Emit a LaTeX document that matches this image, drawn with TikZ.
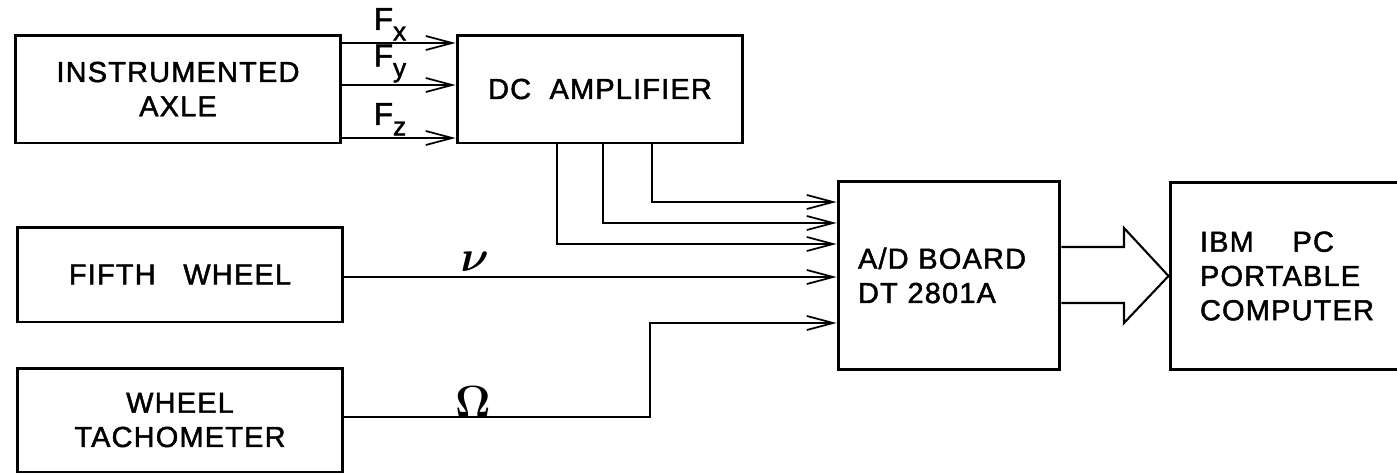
\documentclass[tikz,border=0pt]{standalone}
\usepackage{fontspec}
\usepackage{bm}
\setmainfont{Liberation Sans}
\usetikzlibrary{arrows.meta}

\newcommand{\boxfont}{\fontsize{16.5}{19.5}\selectfont\addfontfeatures{LetterSpace=4,FakeBold=1.6}}
\newcommand{\fsub}[1]{\raisebox{-6pt}{\fontsize{15}{15}\selectfont #1}}

\begin{document}
\begin{tikzpicture}[x=0.02cm, y=-0.02cm,
    blk/.style={draw, line width=1.7pt, inner sep=0pt, font=\boxfont, align=center},
    sig/.style={line width=0.9pt, -{Straight Barb[length=15pt,width=8pt,line width=1pt]}},
    fat/.style={line width=1.2pt, line join=miter},
    flbl/.style={above, pos=0.42, inner sep=1pt, font=\fontsize{18}{18}\selectfont\addfontfeatures{FakeBold=1.6}}]

    \useasboundingbox (0,0) rectangle (1397,474);
    \clip (0,0) rectangle (1397,474);

    % blocks
    \node [blk, minimum width=6.52cm, minimum height=2.16cm] (axle) at (178,89) {INSTRUMENTED\\AXLE};
    \node [blk, minimum width=5.72cm, minimum height=2.16cm] (dcamp) at (600,89) {DC\ \ AMPLIFIER};
    \node [blk, minimum width=6.52cm, minimum height=1.9cm] (fifth) at (180,274.5) {FIFTH\ \ \ WHEEL};
    \node [blk, minimum width=6.52cm, minimum height=2.08cm] (tach) at (180,420) {WHEEL\\TACHOMETER};
    \node [blk, minimum width=4.44cm, minimum height=3.78cm, align=left, text width=3.64cm] (adb) at (949,275.5) {A/D BOARD\\DT 2801A};
    \node [blk, minimum width=5cm, minimum height=3.76cm, align=left, text width=3.8cm] (ibm) at (1295,276) {IBM\ \ \ \ PC\\PORTABLE\\COMPUTER};

    % force signals
    \foreach \yy/\ll in {43/x, 85/y, 138/z}
        \draw [sig] (axle.east |- 0,\yy) -- node [flbl] {F\fsub{\ll}} (dcamp.west |- 0,\yy);

    % amplifier outputs
    \foreach \xx/\yy in {557/244, 603/223, 652/202}
        \draw [sig] (dcamp.south -| \xx,0) |- (adb.west |- 0,\yy);

    % speed signals
    \draw [sig] (fifth.east |- 0,277) -- node [above, pos=0.265, inner sep=2.5pt, font=\fontsize{30}{30}\selectfont] (nu) {$\bm{\nu}$} (adb.west |- 0,277);
    \draw [sig] (tach.east |- 0,417) -| node [above, pos=0.21, inner sep=0pt, font=\fontsize{24}{24}\selectfont] (omega) {$\bm{\Omega}$} (650,323) -- (adb.west |- 0,323);

    % data bus
    \draw [fat] (adb.east |- 0,247) -- (1124,247) -- (1124,228) -- (ibm.west) -- (1124,323) -- (1124,303) -- (adb.east |- 0,303);

\end{tikzpicture}
\end{document}
